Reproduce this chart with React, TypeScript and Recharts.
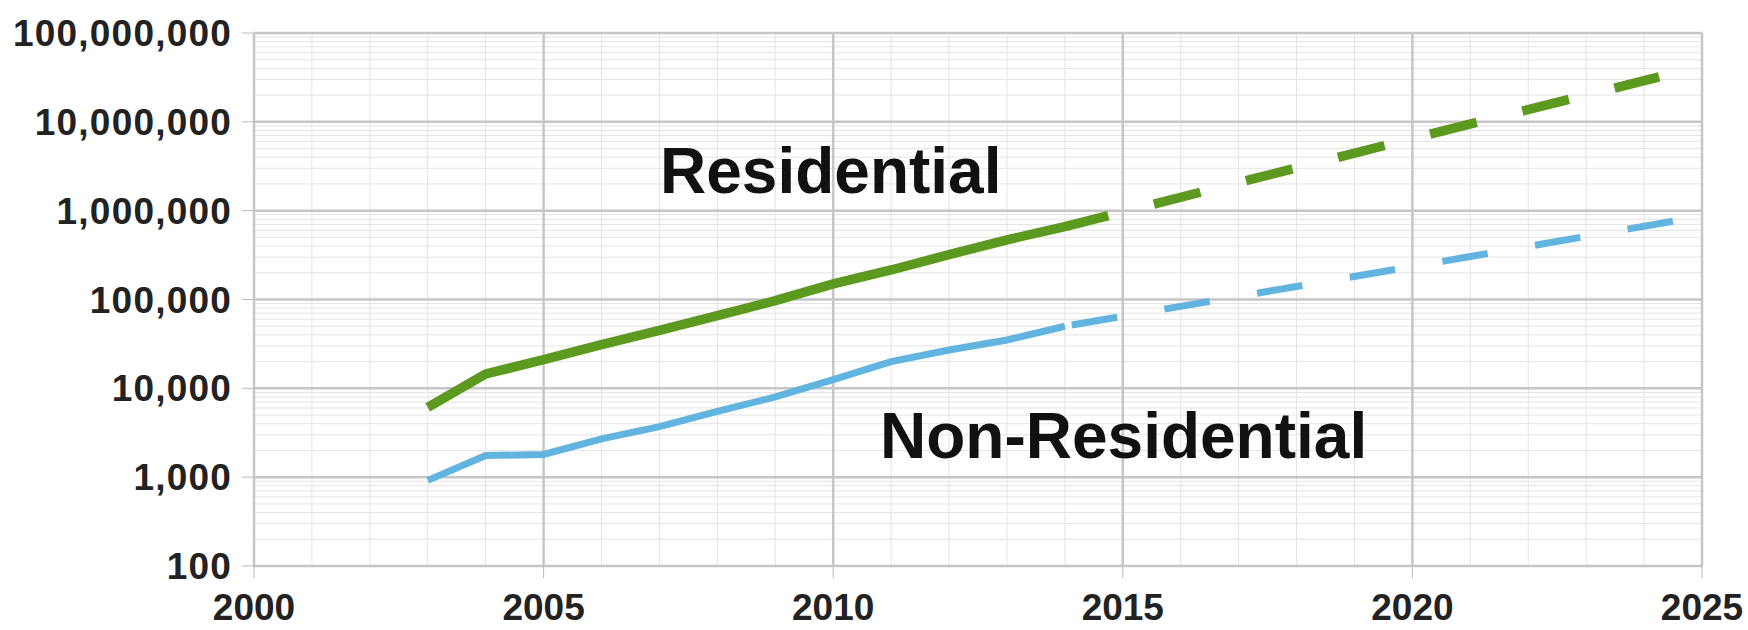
import React from "react"
import { LineChart, Line, XAxis, YAxis, CartesianGrid } from "recharts"

// Residential (solid = actual, dashed = forecast)
const residentialYears = [2003, 2004, 2005, 2006, 2007, 2008, 2009, 2010, 2011, 2012, 2013, 2014, 2014.75]
const residentialValues = [6100, 14500, 21000, 31000, 45000, 66000, 97000, 150000, 215000, 320000, 470000, 660000, 880000]
const residentialForecastYears = [2014.75, 2020, 2024.26]
const residentialForecastValues = [880000, 6500000, 32000000]

// Non-Residential
const nonResidentialYears = [2003, 2004, 2005, 2006, 2007, 2008, 2009, 2010, 2011, 2012, 2013, 2014]
const nonResidentialValues = [920, 1750, 1800, 2700, 3700, 5500, 8000, 12500, 20000, 27000, 35000, 50000]
const nonResidentialForecastYears = [2014, 2020, 2024.55]
const nonResidentialForecastValues = [50000, 235000, 770000]

// axes
const xTicks = [2000, 2005, 2010, 2015, 2020, 2025]
const yTicks = [100, 1000, 10000, 100000, 1000000, 10000000, 100000000]
const minorYears = Array.from({ length: 26 }, (_, i) => 2000 + i)
const minorMultipliers = [2, 3, 4, 5, 6, 7, 8, 9]

const minorY = yTicks.slice(0, -1).flatMap((d) => minorMultipliers.map((m) => d * m))

const toPoints = (xs: number[], ys: number[]) => xs.map((year, i) => ({ year, value: ys[i] }))

const GREEN = "#5b9a1f"
const BLUE = "#62b4e0"
const FONT = "'Liberation Sans', Arial, sans-serif"

export default function App() {
  const tickStyle = { fontFamily: FONT, fontWeight: 700, fontSize: 37, fill: "#222" }

  return (
    <div style={{ position: "absolute", left: 0, top: 0, width: 1748, height: 630, background: "#fff" }}>
      <LineChart width={1748} height={630} margin={{ top: 33, right: 46, left: 0, bottom: 0 }}>
        <CartesianGrid horizontalValues={minorY} verticalValues={minorYears} stroke="#e4e4e4" strokeWidth={1} />
        <CartesianGrid horizontalValues={yTicks} verticalValues={xTicks} stroke="#c6c6c6" strokeWidth={2.5} />
        <XAxis
          type="number"
          dataKey="year"
          domain={[2000, 2025]}
          ticks={xTicks}
          interval={0}
          allowDataOverflow
          axisLine={false}
          tickLine={{ stroke: "#bbb" }}
          tickSize={12}
          tickMargin={16}
          height={64}
          tick={tickStyle}
        />
        <YAxis
          type="number"
          scale="log"
          domain={[100, 100000000]}
          ticks={yTicks}
          interval={0}
          allowDataOverflow
          axisLine={false}
          tickLine={{ stroke: "#bbb" }}
          tickSize={12}
          tickMargin={10}
          width={254}
          tick={{ ...tickStyle, letterSpacing: 1.2 }}
          tickFormatter={(v: number) => v.toLocaleString("en-US")}
        />
        <Line
          data={toPoints(residentialYears, residentialValues)}
          dataKey="value"
          type="linear"
          stroke={GREEN}
          strokeWidth={9.5}
          dot={false}
          activeDot={false}
          isAnimationActive={false}
        />
        <Line
          data={toPoints(residentialForecastYears, residentialForecastValues)}
          dataKey="value"
          type="linear"
          stroke={GREEN}
          strokeWidth={9.5}
          strokeDasharray="48 47"
          strokeDashoffset={48}
          dot={false}
          activeDot={false}
          isAnimationActive={false}
        />
        <Line
          data={toPoints(nonResidentialYears, nonResidentialValues)}
          dataKey="value"
          type="linear"
          stroke={BLUE}
          strokeWidth={7}
          dot={false}
          activeDot={false}
          isAnimationActive={false}
        />
        <Line
          data={toPoints(nonResidentialForecastYears, nonResidentialForecastValues)}
          dataKey="value"
          type="linear"
          stroke={BLUE}
          strokeWidth={7}
          strokeDasharray="46 48"
          strokeDashoffset={87}
          dot={false}
          activeDot={false}
          isAnimationActive={false}
        />
      </LineChart>
      <svg width={1748} height={630} style={{ position: "absolute", left: 0, top: 0, pointerEvents: "none" }}>
        <text x={660} y={193} fontFamily={FONT} fontWeight={700} fontSize={64} fill="#111">
          Residential
        </text>
        <text x={880} y={458} fontFamily={FONT} fontWeight={700} fontSize={64} fill="#111">
          Non-Residential
        </text>
      </svg>
    </div>
  )
}
